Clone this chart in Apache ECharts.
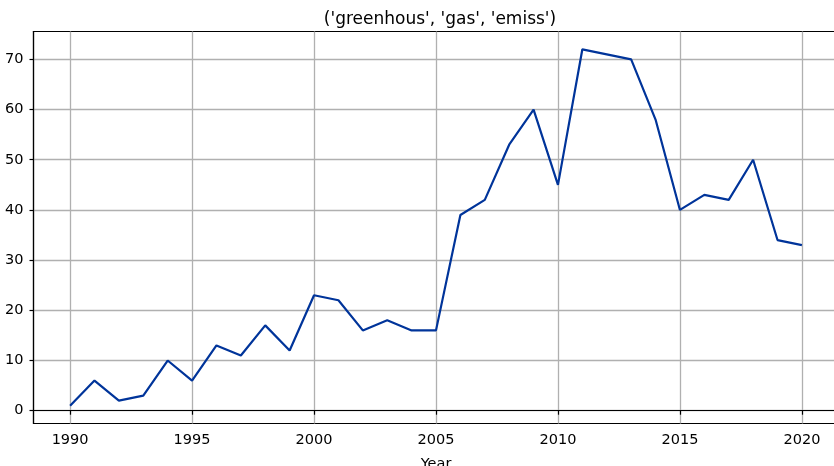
<!DOCTYPE html>
<html><head><meta charset="utf-8">
<script src="https://cdn.jsdelivr.net/npm/echarts@6/dist/echarts.min.js"></script>
<style>html,body{margin:0;padding:0;background:#fff}#c{width:834px;height:466px}</style>
</head><body><div id="c"></div>
<script>
const years = [1990,1991,1992,1993,1994,1995,1996,1997,1998,1999,2000,2001,2002,2003,2004,2005,2006,2007,2008,2009,2010,2011,2012,2013,2014,2015,2016,2017,2018,2019,2020];
const values = [1,6,2,3,10,6,13,11,17,12,23,22,16,18,16,16,39,42,53,60,45,72,71,70,58,40,43,42,50,34,33];
const xTicks = [1990,1995,2000,2005,2010,2015,2020];
const yTicks = [0,10,20,30,40,50,60,70];
const titleText = "('greenhous', 'gas', 'emiss')";
const xName = 'Year';

const font = 'DejaVu Sans';
const chart = echarts.init(document.getElementById('c'), null, {renderer:'canvas'});
chart.setOption({
  animation:false,
  title:{text:titleText,left:435,top:6,textAlign:'center',textStyle:{fontFamily:font,fontSize:17,fontWeight:'normal',color:'#000'}},
  grid:{left:33.5,top:31.5,width:805,height:392,outerBoundsMode:'none',containLabel:false,show:true,borderColor:'#000',borderWidth:1.2,backgroundColor:'transparent'},
  xAxis:{type:'value',min:1988.5,max:2021.5,
    name:xName,nameLocation:'middle',nameGap:33,nameTextStyle:{fontFamily:font,fontSize:14.5,color:'#000'},
    axisLine:{show:true,lineStyle:{color:'#000',width:1.2}},
    axisTick:{show:true,length:4,lineStyle:{color:'#000',width:1.2},customValues:xTicks},
    axisLabel:{fontFamily:font,fontSize:14.5,color:'#000',margin:9,customValues:xTicks,formatter:v=>String(v)},
    splitLine:{show:true,lineStyle:{color:'#b0b0b0',width:1.3}}},
  yAxis:{type:'value',min:-2.55,max:75.55,
    axisLine:{show:true,lineStyle:{color:'#000',width:1.2}},
    axisTick:{show:true,length:4,lineStyle:{color:'#000',width:1.2},customValues:yTicks},
    axisLabel:{fontFamily:font,fontSize:14.5,color:'#000',margin:10,customValues:yTicks,formatter:v=>String(v)},
    splitLine:{show:true,lineStyle:{color:'#b0b0b0',width:1.3}}},
  series:[{type:'line',data:years.map((y,i)=>[y,values[i]]),showSymbol:false,symbol:'none',
    lineStyle:{color:'#00349a',width:2.2},itemStyle:{color:'#00349a'}}]
});
</script></body></html>
